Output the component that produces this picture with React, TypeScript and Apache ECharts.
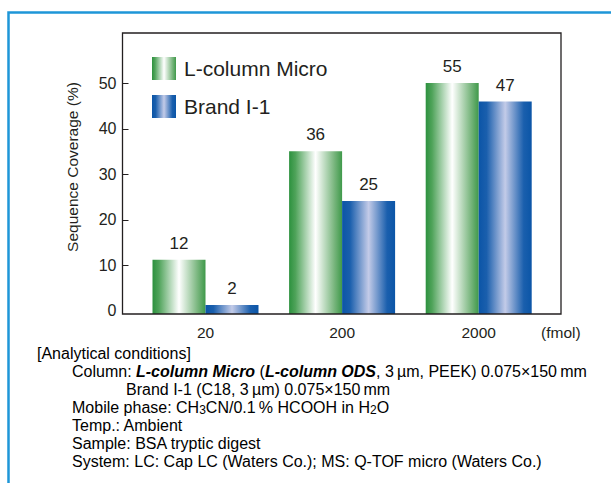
import React, { useEffect, useRef } from "react";
import * as echarts from "echarts";

const categories = ["20", "200", "2000"];
const seriesNames = ["L-column Micro", "Brand I-1"];
// printed values
const lColumnMicroLabels = [12, 36, 55];
const brandI1Labels = [2, 25, 47];
// drawn bar heights as they appear in the picture
const lColumnMicroBars = [12, 36, 51.1];
const brandI1Bars = [2, 25, 47];
const yTickValues = [0, 10, 20, 30, 40, 50];
const yAxisTitle = "Sequence Coverage (%)";
const xUnit = "(fmol)";
const conditionLines = [
  "{n|[Analytical conditions]}",
  "{n|Column: }{b|L-column Micro}{n| (}{b|L-column ODS}{n|, 3\u2009µm, PEEK) 0.075×150\u2009mm}",
  "{n|Brand I-1 (C18, 3\u2009µm) 0.075×150\u2009mm}",
  "{n|Mobile phase: CH}{s|3}{n|CN/0.1\u2009% HCOOH in H}{s|2}{n|O}",
  "{n|Temp.: Ambient}",
  "{n|Sample: BSA tryptic digest}",
  "{n|System: LC: Cap LC (Waters Co.); MS: Q-TOF micro (Waters Co.)}",
];
const conditionIndent = [37, 72, 126, 72, 72, 72, 72];

const FONT = "'Liberation Sans', Arial, Helvetica, sans-serif";
const INK = "#231f20";

export default function App() {
  const ref = useRef<HTMLDivElement>(null);
  useEffect(() => {
    document.body.style.margin = "0";
    const chart = echarts.init(ref.current!, null, { renderer: "svg" });
    const green = new echarts.graphic.LinearGradient(0, 0, 1, 0, [
      { offset: 0, color: "#2c913e" },
      { offset: 0.12, color: "#4fa35a" },
      { offset: 0.5, color: "#ffffff" },
      { offset: 0.85, color: "#79b67e" },
      { offset: 1, color: "#3f994a" },
    ]);
    const blue = new echarts.graphic.LinearGradient(0, 0, 1, 0, [
      { offset: 0, color: "#0b55a7" },
      { offset: 0.15, color: "#1a5fad" },
      { offset: 0.5, color: "#c3cbe8" },
      { offset: 0.85, color: "#1a5fad" },
      { offset: 1, color: "#0b55a7" },
    ]);
    const labelsBySeries = [lColumnMicroLabels, brandI1Labels];
    const mkLabel = (si: number) => ({
      show: true,
      position: "top",
      distance: 8,
      fontSize: 17,
      fontFamily: FONT,
      color: INK,
      formatter: (p: any) => String(labelsBySeries[si][p.dataIndex]),
    });
    const textGraphics: any[] = conditionLines.map((t, i) => ({
      type: "text",
      x: conditionIndent[i],
      y: 353 + i * 18,
      style: {
        text: t,
        textVerticalAlign: "middle",
        rich: {
          n: { fontSize: 16, fontFamily: FONT, color: INK, lineHeight: 18 },
          b: { fontSize: 16, fontFamily: FONT, color: INK, lineHeight: 18, fontWeight: "bold", fontStyle: "italic" },
          s: { fontSize: 12, fontFamily: FONT, color: INK, lineHeight: 12, verticalAlign: "bottom" },
        },
      },
    }));
    chart.setOption({
      animation: false,
      textStyle: { fontFamily: FONT },
      grid: { left: 137.2, right: 64, top: 33, bottom: 169 },
      legend: {
        data: seriesNames,
        orient: "vertical",
        left: 152,
        top: 57,
        padding: 0,
        itemWidth: 24,
        itemHeight: 23,
        itemGap: 15,
        icon: "rect",
        textStyle: { fontSize: 21, color: INK, fontFamily: FONT, padding: [0, 0, 0, 3] },
      },
      xAxis: {
        type: "category",
        data: categories,
        axisLine: { show: false },
        axisTick: { show: false },
        axisLabel: { margin: 10, fontSize: 15.5, color: INK, fontFamily: FONT },
      },
      yAxis: [
        {
          type: "value",
          min: -0.66,
          max: 61.05,
          offset: 14.7,
          axisLine: { show: false },
          splitLine: { show: false },
          axisTick: {
            show: true,
            inside: true,
            length: 6,
            lineStyle: { color: INK, width: 1 },
            customValues: [10, 20, 30, 40, 50],
          },
          axisLabel: {
            customValues: yTickValues,
            margin: 6,
            fontSize: 16,
            color: INK,
            fontFamily: FONT,
          },
        },
        { type: "value", min: 0, max: 62.17, show: false },
      ],
      series: [
        {
          name: seriesNames[0],
          type: "bar",
          yAxisIndex: 1,
          data: lColumnMicroBars,
          barWidth: 53,
          barGap: "0%",
          itemStyle: { color: green },
          label: mkLabel(0),
        },
        {
          name: seriesNames[1],
          type: "bar",
          yAxisIndex: 1,
          data: brandI1Bars,
          barWidth: 53,
          barGap: "0%",
          itemStyle: { color: blue },
          label: mkLabel(1),
        },
      ],
      graphic: [
        {
          type: "polyline",
          shape: { points: [[8.5, 483], [8.5, 12.5], [611, 12.5]] },
          style: { stroke: "#1e96d8", lineWidth: 2.5, fill: "none" },
          silent: true,
        },
        {
          type: "rect",
          shape: { x: 122.5, y: 33, width: 438.5, height: 281 },
          style: { fill: "none", stroke: INK, lineWidth: 1.3 },
          z: 100,
          silent: true,
        },
        {
          type: "text",
          x: 72,
          y: 167,
          rotation: Math.PI / 2,
          style: {
            text: yAxisTitle,
            fontSize: 15.5,
            fontFamily: FONT,
            fill: INK,
            textAlign: "center",
            textVerticalAlign: "middle",
          },
        },
        {
          type: "text",
          x: 541,
          y: 332,
          style: {
            text: xUnit,
            fontSize: 15.5,
            fontFamily: FONT,
            fill: INK,
            textVerticalAlign: "middle",
          },
        },
        ...textGraphics,
      ],
    });
    return () => chart.dispose();
  }, []);
  return (
    <div
      ref={ref}
      style={{ position: "absolute", left: 0, top: 0, width: 611, height: 483, background: "#fff" }}
    />
  );
}
